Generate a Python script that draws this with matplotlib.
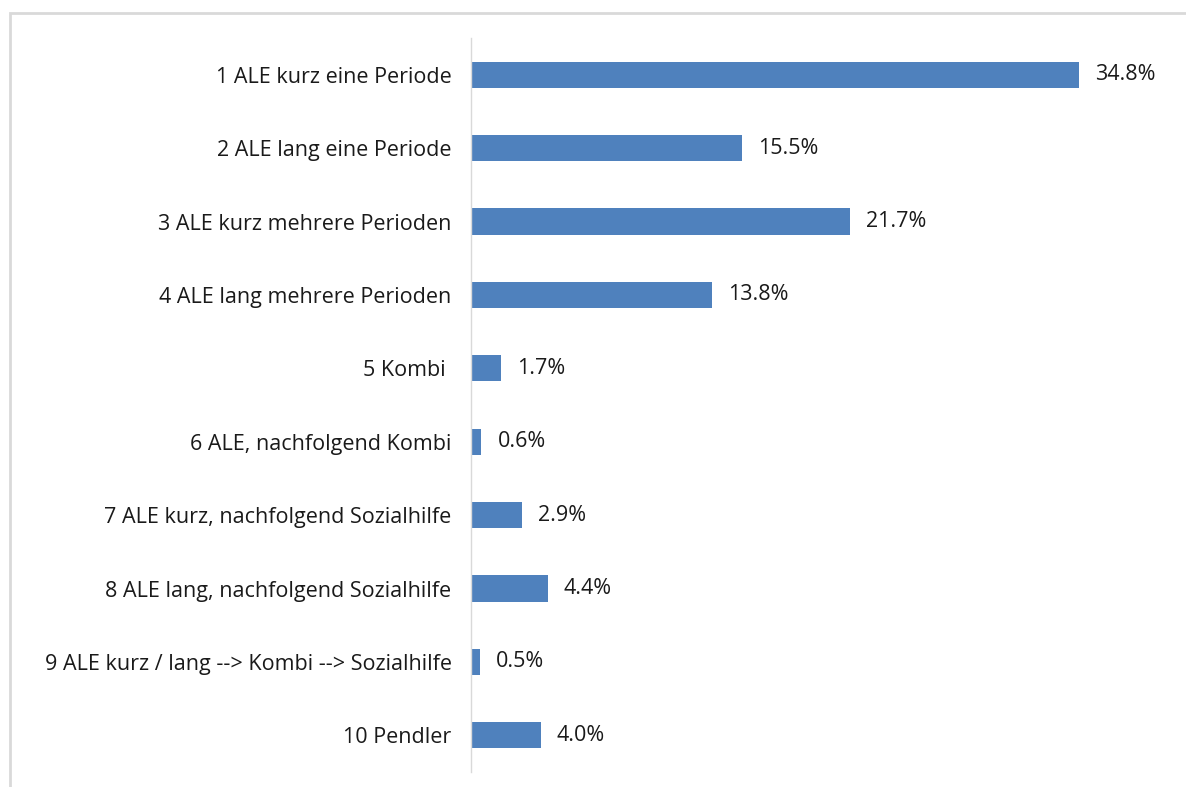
import matplotlib
matplotlib.use("Agg")
import matplotlib.pyplot as plt
from matplotlib.patches import Rectangle

categories = [
    "1 ALE kurz eine Periode",
    "2 ALE lang eine Periode",
    "3 ALE kurz mehrere Perioden",
    "4 ALE lang mehrere Perioden",
    "5 Kombi ",
    "6 ALE, nachfolgend Kombi",
    "7 ALE kurz, nachfolgend Sozialhilfe",
    "8 ALE lang, nachfolgend Sozialhilfe",
    "9 ALE kurz / lang --> Kombi --> Sozialhilfe",
    "10 Pendler",
]
values = [34.8, 15.5, 21.7, 13.8, 1.7, 0.6, 2.9, 4.4, 0.5, 4.0]

W, H = 1186, 787
fig = plt.figure(figsize=(W / 100, H / 100), dpi=100)
plt.rcParams['font.family'] = ['Open Sans', 'DejaVu Sans']

# outer frame
fig.patches.append(Rectangle((10 / W, -0.05), 1.2, (H - 13) / H + 0.05,
                             transform=fig.transFigure, fill=False,
                             edgecolor="#D9D9D9", linewidth=2))

ax = fig.add_axes([471 / W, (H - 772) / H, (1160 - 471) / W, (772 - 38) / H])
n = len(categories)
ypos = list(range(n))
ax.barh(ypos, values, height=0.355, color="#4F81BD")
ax.set_ylim(n - 0.5, -0.5)
ax.set_xlim(0, (1160 - 471) / 17.47)

for s in ["top", "right", "bottom"]:
    ax.spines[s].set_visible(False)
ax.spines["left"].set_color("#D9D9D9")
ax.spines["left"].set_linewidth(1)
ax.set_xticks([])
ax.set_yticks(ypos)
ax.set_yticklabels(categories, fontsize=15.5, color="#1a1a1a")
ax.tick_params(axis="y", length=0, pad=14)

for y, v in zip(ypos, values):
    ax.annotate(f"{v:.1f}%", (v, y), xytext=(11.5, 0), textcoords="offset points",
                va="center", ha="left", fontsize=15.5, color="#1a1a1a")

fig.savefig("out.png", dpi=100)
